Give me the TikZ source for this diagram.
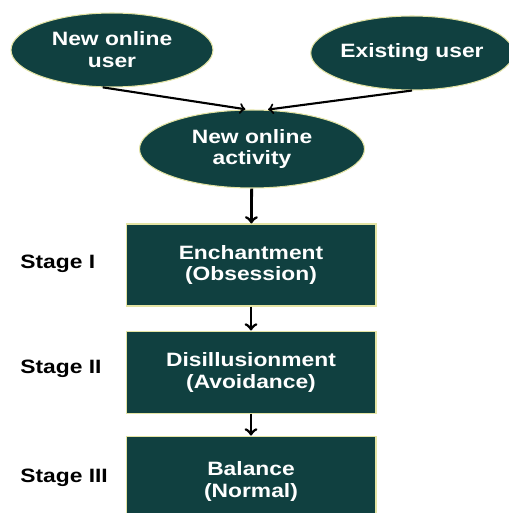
\documentclass[tikz,border=0pt]{standalone}
\usepackage{fontspec}
\setmainfont{Liberation Sans}[FakeStretch=1.18]
\usepackage{xcolor}
\usetikzlibrary{arrows,shapes.geometric,positioning}

\definecolor{darkteal}{HTML}{104040}
\definecolor{rim}{HTML}{E4E4A4}

\tikzset{
  blob/.style={ellipse,fill=darkteal,draw=rim,line width=0.6pt,text=white,
    font=\bfseries\fontsize{11}{12.5}\selectfont,align=center,inner sep=0pt},
  stagebox/.style={rectangle,fill=darkteal,draw=rim,line width=0.6pt,text=white,
    font=\bfseries\fontsize{11}{12.5}\selectfont,align=center,
    minimum width=5cm,minimum height=1.64cm},
  tag/.style={font=\bfseries\fontsize{11}{12}\selectfont,anchor=west,inner sep=0pt}
}

\begin{document}
\begin{tikzpicture}[>=to,x=0.02cm,y=-0.02cm]
 \clip (0,0) rectangle (509,513);

 % entry points
 \node[blob,minimum width=4.04cm,minimum height=1.48cm] (user) at (112,50) {New online\\user};
 \node[blob,minimum width=3.9cm,minimum height=1.48cm] (exist) at (412,53) {Existing user};
 \node[blob,minimum width=4.5cm,minimum height=1.56cm] (act) at (252,149) {New online\\activity};

 % the three stages
 \node[stagebox] (st1) at (251,265) {Enchantment\\(Obsession)};
 \node[stagebox,below=0.48cm of st1] (st2) {Disillusionment\\(Avoidance)};
 \node[stagebox,below=0.44cm of st2,minimum height=1.8cm] (st3) {Balance\\(Normal)};

 \node[tag] (l1) at (20,264) {Stage I};
 \node[tag] (l2) at (20,369) {Stage II};
 \node[tag] (l3) at (20,478) {Stage III};

 \path[->,line width=1.2pt,shorten >=1pt]
  (user.256) edge (act.97)
  (exist.south) edge (act.70);
 \path[->,line width=1.6pt]
  (act) edge (st1)
  (st1) edge (st2)
  (st2) edge (st3);
\end{tikzpicture}
\end{document}
